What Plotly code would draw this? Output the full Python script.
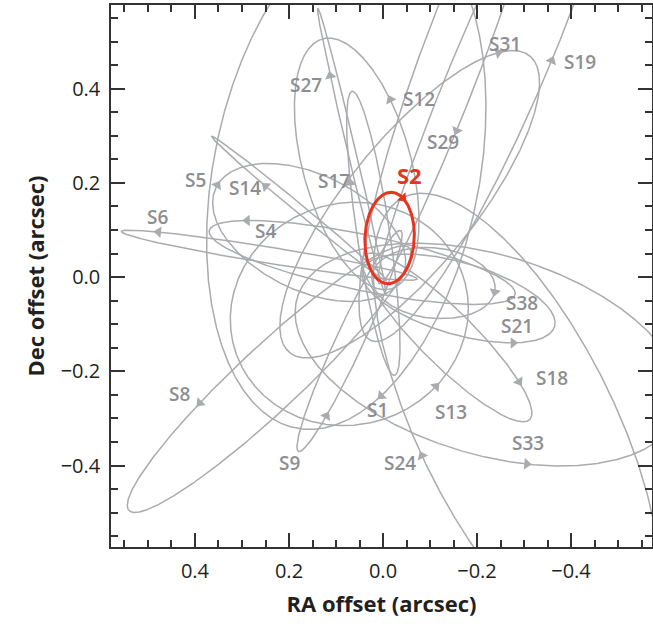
import numpy as np
import plotly.graph_objects as go

# ---- Orbital elements (semi-major axis in arcsec, eccentricity, angles in degrees)
stars    = ["S1", "S2", "S4", "S5", "S6", "S8", "S9", "S12", "S13", "S14",
            "S17", "S18", "S19", "S21", "S24", "S27", "S29", "S31", "S33", "S38"]
a_arcsec = [0.620, 0.123, 0.357, 0.250, 0.436, 0.415, 0.2724, 0.295, 0.270, 0.256,
            0.311, 0.250, 0.798, 0.213, 1.060, 0.480, 0.428, 0.449, 0.530, 0.132]
ecc      = [0.556, 0.880, 0.3905, 0.842, 0.886, 0.8031, 0.644, 0.900, 0.425, 0.963,
            0.364, 0.759, 0.844, 0.784, 0.933, 0.952, 0.963, 0.5497, 0.760, 0.8201]
incl     = [119.14, 135.25, 80.33, 143.7, 86.44, 74.37, 82.41, 33.5, 24.7, 97.3,
            96.8, 110.7, 73.1, 54.8, 106.3, 92.2, 105.8, 109.03, 60.5, 171.1]
node     = [342.04, 225.39, 258.84, 109.0, 83.46, 315.43, 156.60, 230.1, 74.5, 228.0,
            188.1, 43.0, 343.8, 252.7, 4.2, 191.1, 154.6, 137.16, 90.1, 101.06]
argperi  = [122.3, 63.56, 290.8, 236.0, 129.5, 346.70, 150.6, 317.9, 245.2, 339.0,
            326.9, 349.5, 153.2, 182.6, 290.0, 307.0, 346.0, 308.0, 303.7, 17.99]

# ---- annotation layout: label centres and approximate places for the direction arrows (arcsec)
label_pos = {
    "S31": (-0.26, 0.495), "S19": (-0.419, 0.456), "S27": (0.164, 0.408), "S12": (-0.077, 0.378),
    "S29": (-0.128, 0.287), "S17": (0.104, 0.204), "S2": (-0.057, 0.217), "S5": (0.398, 0.206),
    "S14": (0.294, 0.189), "S6": (0.479, 0.127), "S4": (0.249, 0.098), "S38": (-0.296, -0.055),
    "S21": (-0.285, -0.104), "S18": (-0.36, -0.214), "S8": (0.434, -0.248), "S1": (0.011, -0.282),
    "S13": (-0.145, -0.287), "S33": (-0.309, -0.352), "S9": (0.198, -0.395), "S24": (-0.036, -0.395),
}
arrow_hint = {
    "S31": (-0.249, 0.461), "S19": (-0.357, 0.461), "S27": (0.123, 0.425), "S12": (-0.026, 0.382),
    "S29": (-0.164, 0.308), "S17": (0.074, 0.199), "S2": (-0.045, 0.17), "S5": (0.36, 0.20),
    "S14": (0.255, 0.187), "S6": (0.477, 0.098), "S4": (0.289, 0.127), "S38": (-0.249, -0.034),
    "S21": (-0.277, -0.14), "S18": (-0.302, -0.214), "S13": (-0.125, -0.244), "S33": (-0.306, -0.389),
    "S24": (-0.083, -0.378), "S8": (0.391, -0.265), "S9": (0.117, -0.297), "S1": (0.011, -0.244),
}

GREY = "#a9abae"
LABEL_GREY = "#8d8e91"
RED = "#e8341f"


def orbit(a, e, i, O, w, E):
    """Sky-projected Keplerian orbit (Thiele-Innes); returns RA, Dec offsets and their derivatives."""
    i, O, w = np.radians([i, O, w])
    A = a * (np.cos(w) * np.cos(O) - np.sin(w) * np.sin(O) * np.cos(i))
    B = a * (np.cos(w) * np.sin(O) + np.sin(w) * np.cos(O) * np.cos(i))
    F = a * (-np.sin(w) * np.cos(O) - np.cos(w) * np.sin(O) * np.cos(i))
    G = a * (-np.sin(w) * np.sin(O) + np.cos(w) * np.cos(O) * np.cos(i))
    X = np.cos(E) - e
    Y = np.sqrt(1 - e * e) * np.sin(E)
    dX = -np.sin(E)
    dY = np.sqrt(1 - e * e) * np.cos(E)
    return B * X + G * Y, A * X + F * Y, B * dX + G * dY, A * dX + F * dY


E = np.linspace(0, 2 * np.pi, 1441)
fig = go.Figure()
order = [k for k in range(len(stars)) if stars[k] != "S2"] + [stars.index("S2")]
arrows = {"x": [], "y": [], "ang": [], "col": []}
for k in order:
    name = stars[k]
    ra, dec, dra, ddec = orbit(a_arcsec[k], ecc[k], incl[k], node[k], argperi[k], E)
    col = RED if name == "S2" else GREY
    fig.add_trace(go.Scatter(x=ra, y=dec, mode="lines", line=dict(color=col, width=3 if name == "S2" else 1.5),
                             hoverinfo="skip", showlegend=False))
    hx, hy = arrow_hint[name]
    j = int(np.argmin((ra - hx) ** 2 + (dec - hy) ** 2))
    arrows["x"].append(ra[j]); arrows["y"].append(dec[j])
    arrows["ang"].append(float(np.degrees(np.arctan2(-dra[j], ddec[j]))))
    arrows["col"].append(col)

fig.add_trace(go.Scatter(x=arrows["x"], y=arrows["y"], mode="markers", hoverinfo="skip", showlegend=False,
                         marker=dict(symbol="triangle-up", size=10, angle=arrows["ang"], color=arrows["col"],
                                     line=dict(width=0))))

for name, (lx, ly) in label_pos.items():
    is2 = name == "S2"
    fig.add_annotation(x=lx, y=ly, text=name, showarrow=False,
                       font=dict(family="Open Sans", size=22 if is2 else 19, color=RED if is2 else LABEL_GREY,
                                 weight=700 if is2 else 600))

axis_common = dict(showgrid=False, zeroline=False, showline=True, linecolor="#333333", linewidth=1.5,
                   mirror="ticks", ticks="inside", ticklen=14, tickwidth=1.5, tickcolor="#333333",
                   dtick=0.2, tickformat=".1f", automargin=False,
                   tickfont=dict(family="Open Sans", size=20, color="#231f20"),
                   minor=dict(ticks="inside", ticklen=7, tickwidth=1.5, tickcolor="#333333", dtick=0.05,
                              showgrid=False))

fig.update_xaxes(range=[0.5787, -0.5723], tick0=0,
                 title=dict(text="RA offset (arcsec)", standoff=14,
                            font=dict(family="Open Sans", size=22, color="#231f20", weight=700)),
                 ticklabelstandoff=5, **axis_common)
fig.update_yaxes(range=[-0.573, 0.5775], tick0=0,
                 title=dict(text="Dec offset (arcsec)", standoff=10,
                            font=dict(family="Open Sans", size=22, color="#231f20", weight=700)),
                 ticklabelstandoff=5, **axis_common)

fig.update_layout(width=653, height=629, margin=dict(l=111, r=1, t=5, b=82), template="none",
                  plot_bgcolor="white", paper_bgcolor="white")
fig.write_html("out.html", config={"responsive": False, "displayModeBar": False},
               post_script="document.body.style.margin='0px';document.body.style.overflow='hidden';")
